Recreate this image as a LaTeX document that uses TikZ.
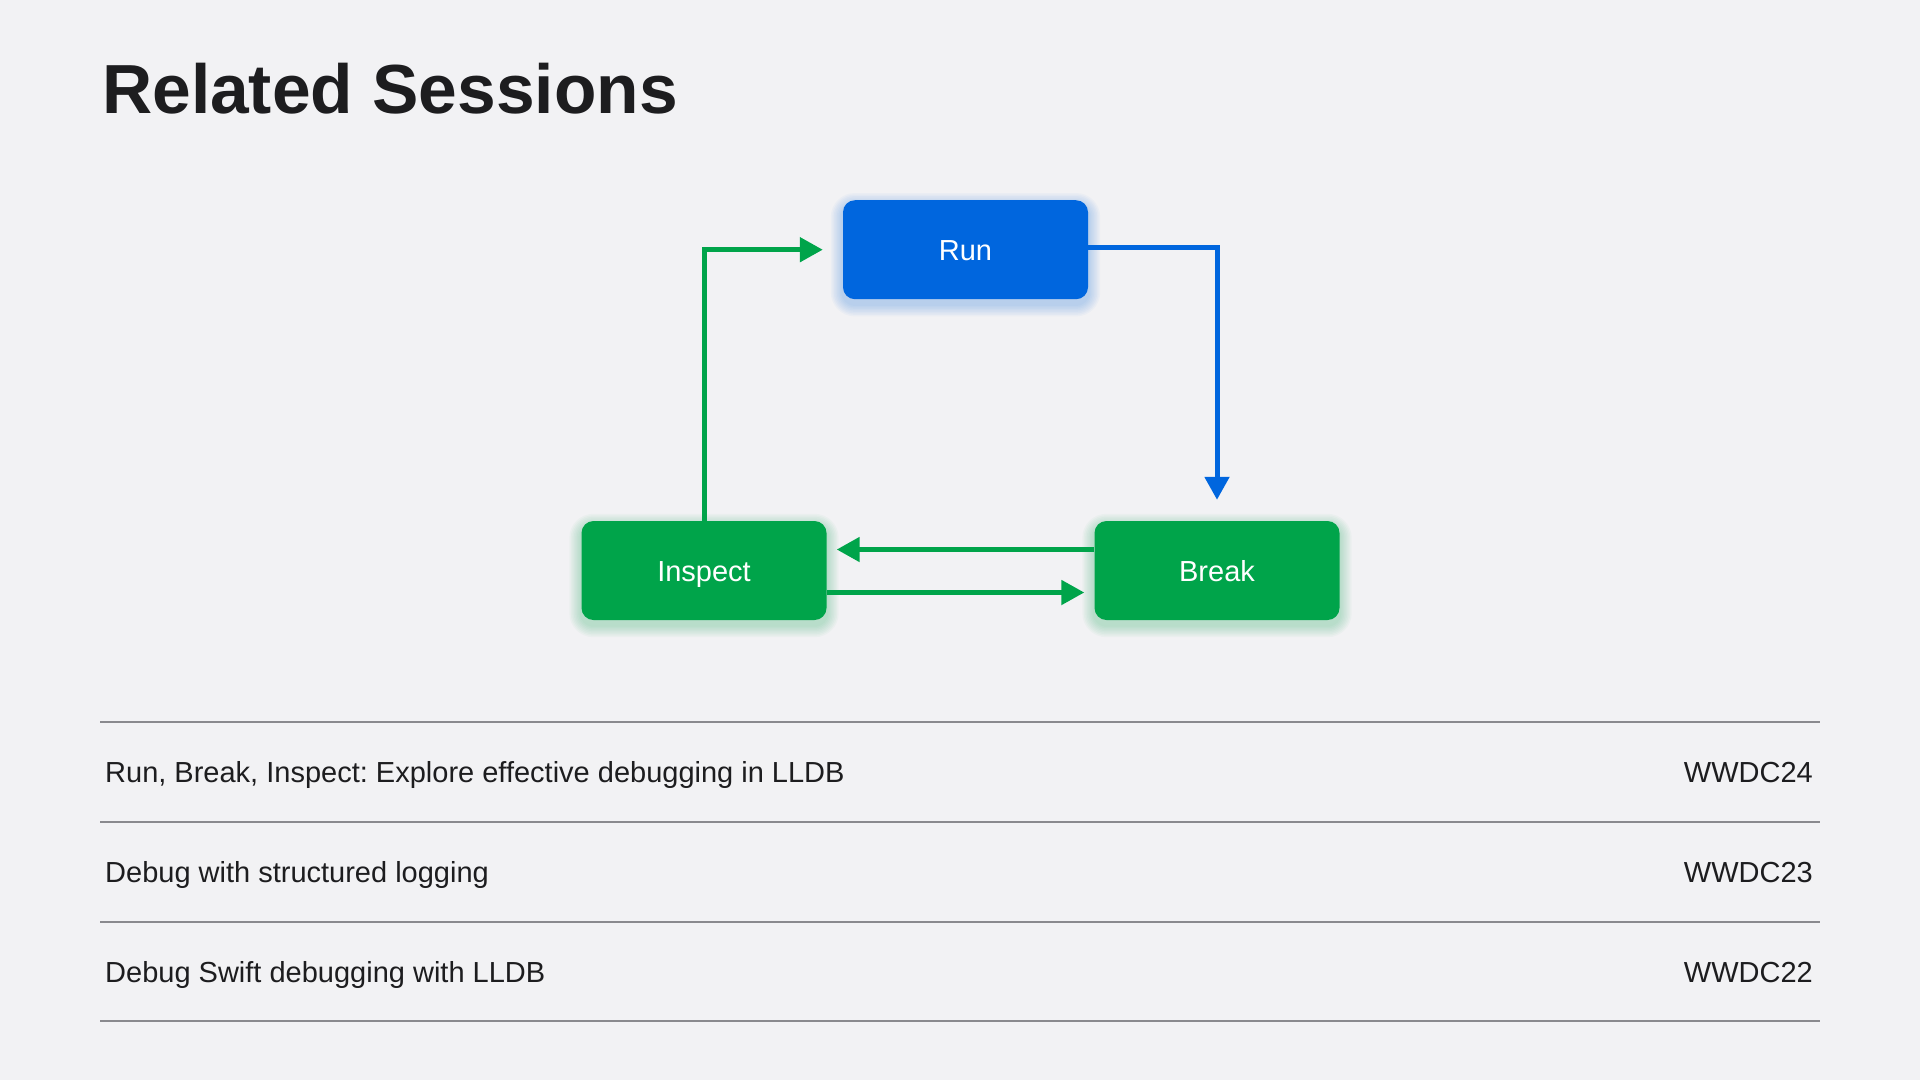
\documentclass[tikz,border=0pt]{standalone}
\usepackage{fontspec}
\setmainfont{Liberation Sans}
\frenchspacing
\usetikzlibrary{arrows.meta,calc}
\definecolor{pagebg}{RGB}{242,242,244}
\definecolor{inkdark}{RGB}{29,29,31}
\definecolor{rulegray}{RGB}{138,138,142}
\definecolor{runblue}{RGB}{0,102,222}
\definecolor{stepgreen}{RGB}{0,164,74}
\pgfdeclarelayer{bg}
\pgfdeclarelayer{glow}
\pgfsetlayers{bg,glow,main}
\tikzset{
  px/.style={x=1pt,y=-1pt},
  statebox/.style={rectangle, rounded corners=12pt, minimum width=245pt,
    minimum height=99pt, inner sep=0pt, text=white,
    text height=21pt, text depth=0pt,
    font=\fontsize{29}{34}\selectfont},
  bluebox/.style={statebox, fill=runblue},
  greenbox/.style={statebox, fill=stepgreen},
  flowarrow/.style={line width=5pt, -{Triangle[length=23pt,width=24pt]}},
  bluearrow/.style={flowarrow, draw=runblue},
  greenarrow/.style={flowarrow, draw=stepgreen},
  rowtext/.style={font=\fontsize{29}{34}\selectfont, text=inkdark, inner sep=0pt},
  rowrule/.style={draw=rulegray, line width=2pt}
}
% soft coloured halo under a state box
\newcommand{\halo}[2]{%
  \begin{pgfonlayer}{glow}
    \foreach \i in {1.5,3,...,12}{
      \fill[#2, opacity=0.03, rounded corners={12pt+\i pt}]
        ([shift={(-\i pt,-\i pt-5pt)}]#1.south west) rectangle
        ([shift={(\i pt,\i pt-5pt)}]#1.north east);
    }
  \end{pgfonlayer}}
\begin{document}
\begin{tikzpicture}[px]
  \begin{pgfonlayer}{bg}
    \fill[pagebg] (0,0) rectangle (1920,1080);
  \end{pgfonlayer}
  \useasboundingbox (0,0) rectangle (1920,1080);

  % heading
  \node[anchor=base west, inner sep=0pt, text=inkdark,
        font=\fontsize{69.5}{80}\selectfont\bfseries] (title) at (102,113.3) {Related Sessions};

  % the debugging cycle
  \node[bluebox]  (run) at (965.5,249.7) {Run};
  \node[greenbox] (ins) at (704,570.5) {Inspect};
  \node[greenbox] (brk) at (1217,570.5) {Break};
  \halo{run}{runblue}
  \halo{ins}{stepgreen}
  \halo{brk}{stepgreen}

  \draw[bluearrow, shorten >=21pt] ([yshift=2.5pt]run.east) -| (brk.north);
  \draw[greenarrow, shorten >=20pt] (ins.north) |- (run.west);
  \coordinate (backstart) at ([yshift=21pt]brk.west);
  \coordinate (fwdstart) at ([yshift=-22pt]ins.east);
  \draw[greenarrow, shorten >=10pt] (backstart) -- (ins.east |- backstart);
  \draw[greenarrow, shorten >=10pt] (fwdstart) -- (brk.west |- fwdstart);

  % session table
  \coordinate (r0a) at (100,722);  \coordinate (r0b) at (1820,722);
  \coordinate (r1a) at (100,822);  \coordinate (r1b) at (1820,822);
  \coordinate (r2a) at (100,922);  \coordinate (r2b) at (1820,922);
  \coordinate (r3a) at (100,1021); \coordinate (r3b) at (1820,1021);
  \draw[rowrule] (r0a) -- (r0b);
  \draw[rowrule] (r1a) -- (r1b);
  \draw[rowrule] (r2a) -- (r2b);
  \draw[rowrule] (r3a) -- (r3b);

  \node[rowtext, anchor=base west] (s1) at (105,782.7) {Run, Break, Inspect: Explore effective debugging in LLDB};
  \node[rowtext, anchor=base west] (s2) at (105,882.7) {Debug with structured logging};
  \node[rowtext, anchor=base west] (s3) at (105,982.7) {Debug Swift debugging with LLDB};
  \node[rowtext, anchor=base east] (y1) at (1813,782.7) {WWDC24};
  \node[rowtext, anchor=base east] (y2) at (1813,882.7) {WWDC23};
  \node[rowtext, anchor=base east] (y3) at (1813,982.7) {WWDC22};
\end{tikzpicture}
\end{document}
